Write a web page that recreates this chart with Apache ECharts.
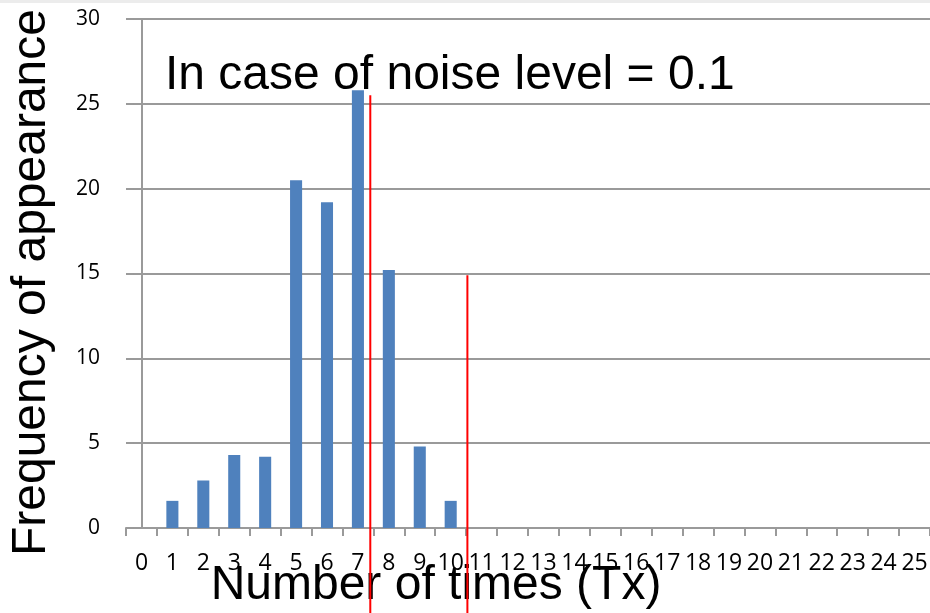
<!DOCTYPE html>
<html>
<head>
<meta charset="utf-8">
<script src="https://cdn.jsdelivr.net/npm/echarts@6/dist/echarts.min.js"></script>
<style>
	html, body { margin: 0; padding: 0; background: #fff; }
	#chartBox { width: 930px; height: 613px; }
</style>
</head>
<body>
<div id="chartBox"></div>
<script>
// 横轴类别 0..25
var categories = ['0', '1', '2', '3', '4', '5', '6', '7', '8', '9', '10', '11', '12',
	'13', '14', '15', '16', '17', '18', '19', '20', '21', '22', '23', '24', '25'];
// 出现次数
var frequency = [0, 1.6, 2.8, 4.3, 4.2, 20.5, 19.2, 25.8, 15.2, 4.8, 1.6, 0, 0,
	0, 0, 0, 0, 0, 0, 0, 0, 0, 0, 0, 0, 0];
// 红色竖线 (类别坐标) 与其顶端数值
var markerX = [7.4, 10.54];
var markerTop = [25.5, 14.9];
var yTicks = [0, 5, 10, 15, 20, 25, 30];

var chart = echarts.init(document.getElementById('chartBox'));

var grayLine = '#9a9a9a';
var series = [{
	type: 'bar',
	data: frequency,
	barWidth: '39%',
	itemStyle: { color: '#4f81bd' },
	z: 2
}];
for (let i = 0; i < markerX.length; i++) {
	series.push({
		type: 'line',
		xAxisIndex: 1,
		data: [[markerX[i], -6], [markerX[i], markerTop[i]]],
		symbol: 'none',
		clip: false,
		lineStyle: { color: '#ff0000', width: 2 },
		z: 10,
		silent: true
	});
}

var option = {
	animation: false,
	title: {
		text: 'In case of noise level = 0.1',
		left: 160,
		top: 47,
		textStyle: { fontFamily: 'Liberation Sans', fontSize: 48, fontWeight: 'normal', color: '#000' }
	},
	graphic: [{
		type: 'rect',
		shape: { x: 0, y: 0, width: 930, height: 3 },
		style: { fill: '#ececec' }
	}],
	grid: { left: 126, right: 0, top: 19, bottom: 85, containLabel: false, outerBoundsMode: 'none' },
	xAxis: [{
		type: 'category',
		data: categories,
		name: 'Number of times (Tx)',
		nameLocation: 'middle',
		nameGap: 34,
		nameMoveOverlap: false,
		nameTextStyle: { fontFamily: 'Liberation Sans', fontSize: 48, color: '#000', padding: [0, 184, 0, 0] },
		axisLine: { lineStyle: { color: grayLine, width: 2 } },
		axisTick: { show: true, length: 8, lineStyle: { color: grayLine, width: 2 } },
		axisLabel: { fontFamily: 'Open Sans', fontSize: 23, color: '#000', margin: 24, interval: 0 }
	}, {
		type: 'value',
		min: -0.5,
		max: 25.5,
		show: false
	}],
	yAxis: {
		type: 'value',
		min: yTicks[0],
		max: yTicks[yTicks.length - 1],
		interval: 5,
		name: 'Frequency of appearance',
		nameLocation: 'middle',
		nameGap: 70,
		nameMoveOverlap: false,
		nameTextStyle: { fontFamily: 'Liberation Sans', fontSize: 48, color: '#000', padding: [0, 18, 0, 0] },
		axisLine: { show: true, lineStyle: { color: grayLine, width: 2 } },
		axisTick: { show: true, length: 8, lineStyle: { color: grayLine, width: 2 } },
		axisLabel: { fontFamily: 'Open Sans', fontSize: 21, color: '#000', margin: 26 },
		splitLine: { lineStyle: { color: grayLine, width: 2 } }
	},
	series: series
};

chart.setOption(option);
</script>
</body>
</html>
